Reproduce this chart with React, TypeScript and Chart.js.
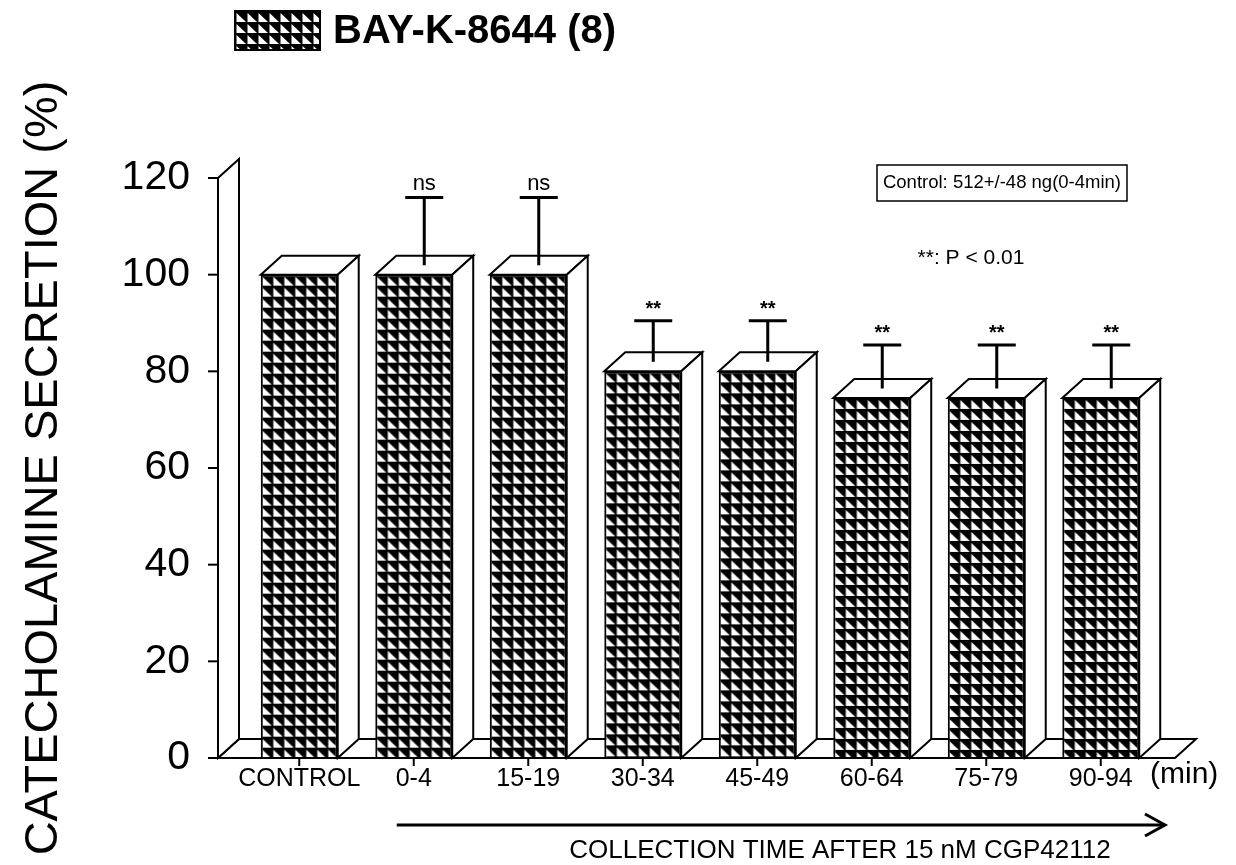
import React, { useEffect, useRef } from "react";
import { Chart, registerables } from "chart.js";

Chart.register(...registerables);

// ---------- data ----------
const categories = ["CONTROL", "0-4", "15-19", "30-34", "45-49", "60-64", "75-79", "90-94"];
const secretion = [100, 100, 100, 80, 80, 74.5, 74.5, 74.5];
const errorUp = [0, 14, 14, 8.5, 8.5, 9, 9, 9];
const significance = ["", "ns", "ns", "**", "**", "**", "**", "**"];
const yMin = 0;
const yMax = 120;
const yStep = 20;
const seriesLabel = "BAY-K-8644 (8)";
const yTitle = "CATECHOLAMINE SECRETION (%)";
const xTitle = "COLLECTION TIME AFTER 15 nM CGP42112";
const unitLabel = "(min)";
const controlNote = "Control: 512+/-48 ng(0-4min)";
const pNote = "**: P < 0.01";

// ---------- style constants ----------
const FONT = "'Liberation Sans', Arial, Helvetica, sans-serif";
const DX = 21; // 3-D depth offset (x)
const DY = 19; // 3-D depth offset (y)
const BAR_PCT = 0.672;
const CELL_W = 11;
const CELL_H = 11;

function makeCell(): HTMLCanvasElement {
  const c = document.createElement("canvas");
  c.width = CELL_W;
  c.height = CELL_H;
  const g = c.getContext("2d")!;
  g.fillStyle = "#000";
  g.fillRect(0, 0, CELL_W, CELL_H);
  g.fillStyle = "#fff";
  g.beginPath();
  g.moveTo(1.5, 2);
  g.lineTo(1.5, CELL_H);
  g.lineTo(CELL_W, CELL_H);
  g.closePath();
  g.fill();
  return c;
}

let cellCanvas: HTMLCanvasElement | null = null;
function patternAt(ctx: CanvasRenderingContext2D, ox: number, oy: number): CanvasPattern | string {
  if (!cellCanvas) cellCanvas = makeCell();
  const p = ctx.createPattern(cellCanvas, "repeat");
  if (!p) return "#000";
  try {
    p.setTransform(new DOMMatrix([1, 0, 0, 1, ox, oy]));
  } catch (e) {}
  return p;
}

const threeD = {
  id: "threeD",
  beforeDatasetsDraw(chart: any) {
    const { ctx, chartArea } = chart;
    const xs = chart.scales.x;
    const ys = chart.scales.y;
    const y0 = ys.getPixelForValue(yMin);
    const yT = ys.getPixelForValue(yMax);
    const ax = chartArea.left - 24;
    const floorRight = chartArea.right + 17;
    ctx.save();
    ctx.strokeStyle = "#000";
    ctx.lineJoin = "miter";
    ctx.fillStyle = "#fff";
    ctx.lineWidth = 2;
    // floor
    ctx.beginPath();
    ctx.moveTo(ax, y0);
    ctx.lineTo(floorRight, y0);
    ctx.lineTo(floorRight + DX, y0 - DY);
    ctx.lineTo(ax + DX, y0 - DY);
    ctx.closePath();
    ctx.fill();
    ctx.stroke();
    // left wall
    ctx.beginPath();
    ctx.moveTo(ax, y0);
    ctx.lineTo(ax, yT);
    ctx.lineTo(ax + DX, yT - DY);
    ctx.lineTo(ax + DX, y0 - DY);
    ctx.closePath();
    ctx.fill();
    ctx.stroke();
    // y tick marks
    ys.ticks.forEach((t: any) => {
      const py = ys.getPixelForValue(t.value);
      ctx.beginPath();
      ctx.moveTo(ax - 10, py);
      ctx.lineTo(ax, py);
      ctx.stroke();
    });
    // x tick marks
    categories.forEach((_, i) => {
      const px = xs.getPixelForValue(i);
      ctx.beginPath();
      ctx.moveTo(px, y0);
      ctx.lineTo(px, y0 + 8);
      ctx.stroke();
    });
    ctx.restore();
  },
  afterDatasetsDraw(chart: any) {
    const { ctx, chartArea } = chart;
    const ys = chart.scales.y;
    const y0 = ys.getPixelForValue(yMin);
    const meta = chart.getDatasetMeta(0);
    ctx.save();
    ctx.strokeStyle = "#000";
    ctx.fillStyle = "#fff";
    ctx.lineWidth = 2;
    meta.data.forEach((bar: any) => {
      const w = bar.width;
      const l = bar.x - w / 2;
      const r = bar.x + w / 2;
      const t = bar.y;
      // top face
      ctx.beginPath();
      ctx.moveTo(l, t);
      ctx.lineTo(l + DX, t - DY);
      ctx.lineTo(r + DX, t - DY);
      ctx.lineTo(r, t);
      ctx.closePath();
      ctx.fill();
      ctx.stroke();
      // side face
      ctx.beginPath();
      ctx.moveTo(r, t);
      ctx.lineTo(r + DX, t - DY);
      ctx.lineTo(r + DX, y0 - DY);
      ctx.lineTo(r, y0);
      ctx.closePath();
      ctx.fill();
      ctx.stroke();
    });
    // floor front line again
    ctx.beginPath();
    ctx.moveTo(chartArea.left - 24, y0);
    ctx.lineTo(chartArea.right + 17, y0);
    ctx.stroke();
    // error bars + significance
    ctx.lineWidth = 3;
    ctx.fillStyle = "#000";
    ctx.textAlign = "center";
    ctx.textBaseline = "alphabetic";
    meta.data.forEach((bar: any, i: number) => {
      const e = errorUp[i];
      if (!e) return;
      const cx = bar.x + DX / 2;
      const yb = bar.y - DY / 2;
      const yc = ys.getPixelForValue(secretion[i] + e) - DY / 2;
      ctx.beginPath();
      ctx.moveTo(cx, yb);
      ctx.lineTo(cx, yc);
      ctx.moveTo(cx - 19, yc);
      ctx.lineTo(cx + 19, yc);
      ctx.stroke();
      const s = significance[i];
      if (s) {
        ctx.font = s === "ns" ? `22px ${FONT}` : `bold 20px ${FONT}`;
        ctx.fillText(s, cx, s === "ns" ? yc - 8 : yc - 6);
      }
    });
    ctx.restore();
  },
  afterDraw(chart: any) {
    const { ctx } = chart;
    const xs = chart.scales.x;
    const ds = chart.data.datasets[0];
    ctx.save();
    ctx.fillStyle = "#000";
    ctx.strokeStyle = "#000";
    // legend
    const lx = 235, ly = 11, lw = 85, lh = 39;
    ctx.fillStyle = patternAt(ctx, lx, ly) as any;
    ctx.fillRect(lx, ly, lw, lh);
    ctx.lineWidth = 2;
    ctx.strokeRect(lx, ly, lw, lh);
    ctx.fillStyle = "#000";
    ctx.font = `bold 40px ${FONT}`;
    ctx.textAlign = "left";
    ctx.textBaseline = "middle";
    ctx.fillText(ds.label, 333, 32);
    // control note box
    ctx.font = `18.5px ${FONT}`;
    ctx.textAlign = "center";
    ctx.fillText(controlNote, 1002, 183);
    ctx.lineWidth = 1.5;
    ctx.strokeRect(877, 165, 250, 36);
    ctx.font = `21px ${FONT}`;
    ctx.fillText(pNote, 971, 258);
    // unit label
    ctx.font = `30px ${FONT}`;
    ctx.textAlign = "left";
    ctx.fillText(unitLabel, 1150, 775);
    // arrow
    const ax0 = xs.getPixelForValue(1) - 17;
    const ax1 = 1165;
    ctx.lineWidth = 3;
    ctx.beginPath();
    ctx.moveTo(ax0, 825);
    ctx.lineTo(ax1, 825);
    ctx.stroke();
    ctx.beginPath();
    ctx.moveTo(ax1 - 20, 814);
    ctx.lineTo(ax1, 825);
    ctx.lineTo(ax1 - 20, 836);
    ctx.stroke();
    // x title
    ctx.font = `26px ${FONT}`;
    ctx.textAlign = "center";
    ctx.fillText(xTitle, 840, 851);
    ctx.restore();
  },
};

export default function App() {
  const ref = useRef<HTMLCanvasElement>(null);
  useEffect(() => {
    const canvas = ref.current!;
    const chart = new Chart(canvas, {
      type: "bar",
      data: {
        labels: categories,
        datasets: [
          {
            label: seriesLabel,
            data: secretion,
            backgroundColor: (c: any) => {
              const ch = c.chart;
              const xs = ch.scales.x;
              const ys = ch.scales.y;
              if (!xs || !ys || c.type !== "data") return "#000";
              const catW = (xs.right - xs.left) / categories.length;
              const w = catW * BAR_PCT;
              const left = xs.getPixelForValue(c.dataIndex) - w / 2;
              const top = ys.getPixelForValue(secretion[c.dataIndex]);
              return patternAt(ch.ctx, left, top);
            },
            borderColor: "#000",
            borderWidth: 2,
            borderSkipped: "start",
            categoryPercentage: 1,
            barPercentage: BAR_PCT,
          } as any,
        ],
      },
      options: {
        responsive: false,
        maintainAspectRatio: false,
        animation: false,
        devicePixelRatio: 1,
        layout: { padding: { top: 178, right: 78, bottom: 0, left: 0 } },
        plugins: {
          legend: { display: false },
          tooltip: { enabled: false },
        },
        scales: {
          x: {
            type: "category",
            offset: true,
            grid: { display: false, drawTicks: false },
            border: { display: false },
            ticks: {
              color: "#000",
              font: { family: FONT, size: 25 },
              padding: 6,
              maxRotation: 0,
              autoSkip: false,
            },
            afterFit: (s: any) => {
              s.height = 107;
            },
          },
          y: {
            min: yMin,
            max: yMax,
            grid: { display: false, drawTicks: false },
            border: { display: false },
            ticks: {
              stepSize: yStep,
              color: "#000",
              font: { family: FONT, size: 41 },
              padding: 52,
            },
            title: {
              display: true,
              text: yTitle,
              color: "#000",
              font: { family: FONT, size: 47 },
              padding: { top: 16, bottom: 0 },
            },
            afterFit: (s: any) => {
              s.width = 242;
            },
          },
        },
      },
      plugins: [threeD],
    } as any);
    return () => chart.destroy();
  }, []);
  return (
    <div style={{ position: "fixed", left: 0, top: 0, width: 1236, height: 865, background: "#fff" }}>
      <canvas ref={ref} width={1236} height={865} style={{ display: "block" }} />
    </div>
  );
}
